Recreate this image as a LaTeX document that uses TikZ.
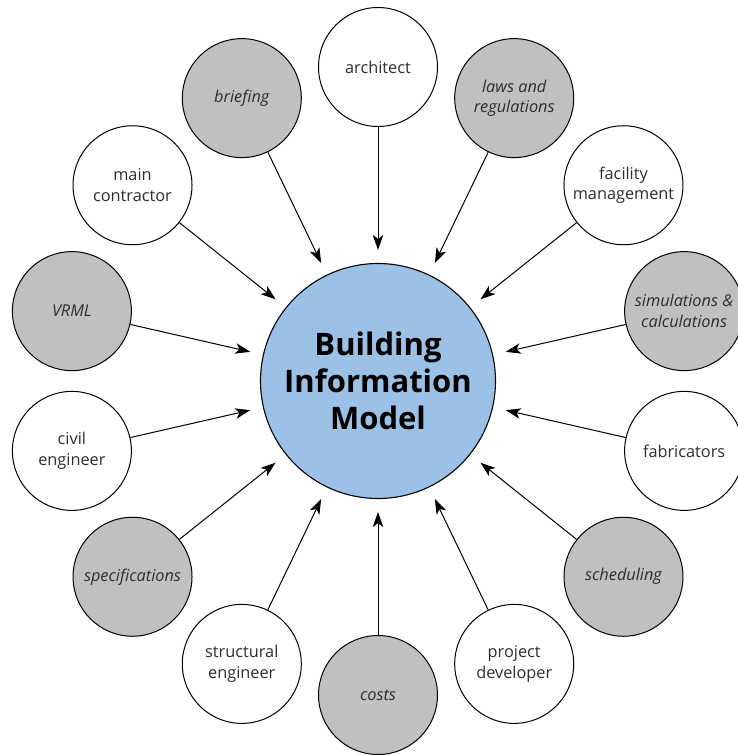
\documentclass[tikz,border=0pt]{standalone}
\usepackage{fontspec}
\setmainfont{Open Sans}
\usetikzlibrary{arrows.meta,calc}
\definecolor{bimblue}{RGB}{155,194,230}
\definecolor{topicgray}{RGB}{192,192,192}
\definecolor{inktext}{RGB}{45,45,45}
\begin{document}
\begin{tikzpicture}[x=1pt,y=1pt,
  party/.style={circle, draw=black, line width=1pt, fill=white,
    minimum size=119pt, inner sep=0pt, align=center, text=inktext,
    font=\fontsize{16.3}{20.5}\selectfont},
  topic/.style={party, fill=topicgray,
    font=\fontsize{16.3}{20.5}\selectfont\itshape},
  hub/.style={circle, draw=black, line width=1.1pt, fill=bimblue,
    minimum size=235pt, inner sep=0pt, align=center, text=black,
    font=\fontsize{31}{37}\selectfont\bfseries},
  feed/.style={-{Stealth[length=15pt,width=10.5pt,inset=4pt]},
    line width=1pt, shorten >=13pt}
]
\useasboundingbox (0,0) rectangle (738,-755);

% central model
\node[hub] (bim) at (378,-381) {Building\\Information\\Model};

% contributors around the model, 14 positions on a ring
\def\ring{314}
\node[party] (architect)  at ($(bim)+(90:\ring)$)     {architect};
\node[topic] (briefing)   at ($(bim)+(115.71:\ring)$) {briefing};
\node[party] (contractor) at ($(bim)+(141.43:\ring)$) {main\\contractor};
\node[topic] (vrml)       at ($(bim)+(167.14:\ring)$) {VRML};
\node[party] (civil)      at ($(bim)+(192.86:\ring)$) {civil\\engineer};
\node[topic] (specs)      at ($(bim)+(218.57:\ring)$) {specifications};
\node[party] (structural) at ($(bim)+(244.29:\ring)$) {structural\\engineer};
\node[topic] (costs)      at ($(bim)+(270:\ring)$)    {costs};
\node[party] (developer)  at ($(bim)+(295.71:\ring)$) {project\\developer};
\node[topic] (scheduling) at ($(bim)+(321.43:\ring)$) {scheduling};
\node[party] (fabricators) at ($(bim)+(347.14:\ring)$) {fabricators};
\node[topic] (simulations) at ($(bim)+(12.86:\ring)$) {simulations \&\\calculations};
\node[party] (facility)   at ($(bim)+(38.57:\ring)$)  {facility\\management};
\node[topic] (laws)       at ($(bim)+(64.29:\ring)$)  {laws and\\regulations};

% everything feeds into the model
\foreach \src in {architect,briefing,contractor,vrml,civil,specs,structural,
                  costs,developer,scheduling,fabricators,simulations,facility,laws}
  \draw[feed] (\src) -- (bim);
\end{tikzpicture}
\end{document}
